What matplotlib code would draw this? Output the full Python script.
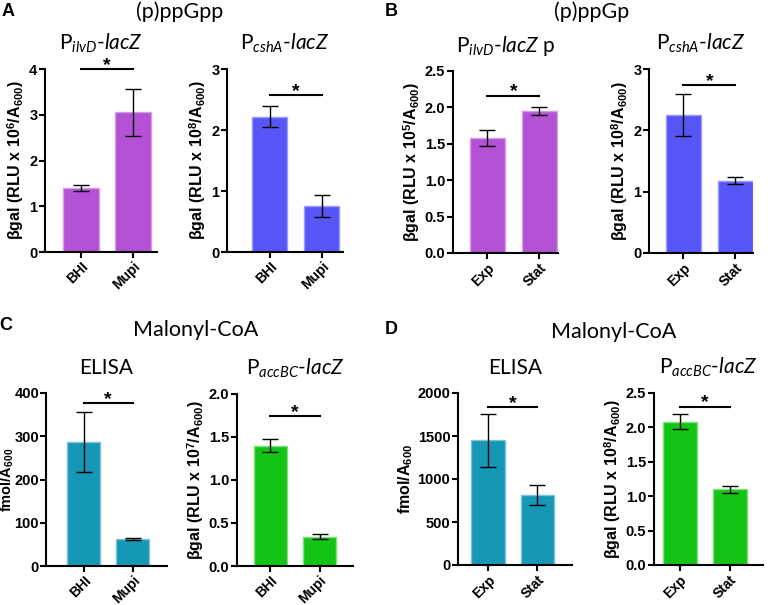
import numpy as np
import matplotlib
matplotlib.use('Agg')
import matplotlib.pyplot as plt

plt.rcParams['mathtext.fontset'] = 'custom'
plt.rcParams['mathtext.rm'] = 'Lato'
plt.rcParams['mathtext.it'] = 'Lato:italic'
plt.rcParams['mathtext.bf'] = 'Liberation Sans:bold'

# --- data ---
cond_mupi = ['BHI', 'Mupi']
cond_phase = ['Exp', 'Stat']

a1_vals = [1.40, 3.05]
a1_err = [0.07, 0.51]
a2_vals = [2.22, 0.75]
a2_err = [0.17, 0.18]
b1_vals = [1.58, 1.95]
b1_err = [0.11, 0.055]
b2_vals = [2.25, 1.18]
b2_err = [0.34, 0.055]
c1_vals = [287, 63]
c1_err = [70, 2]
c2_vals = [1.40, 0.34]
c2_err = [0.075, 0.03]
d1_vals = [1450, 815]
d1_err = [305, 115]
d2_vals = [2.08, 1.10]
d2_err = [0.11, 0.055]

purple = '#b452d6'
blue = '#5656f7'
teal = '#1697b5'
green = '#14c414'
edges = {purple: '#d59be8', blue: '#9a9afa', teal: '#7cc3d6', green: '#7be07b'}

W, H = 771, 605
fig = plt.figure(figsize=(W / 100, H / 100), dpi=100)


def panel(px, cats, vals, errs, color, ylim, yticks, ylabel, sig_y, xlim, title, dec=False):
    # px = (x0, x1, ytop, ybottom) in pixels
    x0, x1, yt, yb = px
    ax = fig.add_axes([x0 / W, 1 - yb / H, (x1 - x0) / W, (yb - yt) / H])
    x = np.arange(len(cats))
    ax.bar(x, vals, width=0.68, color=color, edgecolor=edges[color], linewidth=1, zorder=2)
    ax.errorbar(x, vals, yerr=errs, fmt='none', ecolor='black', elinewidth=1,
                capsize=6, capthick=1, zorder=3)
    ax.plot([0, 1], [sig_y, sig_y], color='black', lw=1.5, clip_on=False)
    ax.annotate('*', (0.5, sig_y), xytext=(0, -0.5), textcoords='offset points',
                ha='center', va='baseline', fontsize=14, fontweight='bold',
                family='Liberation Sans', annotation_clip=False)
    ax.set_xlim(xlim)
    ax.set_ylim(ylim)
    ax.set_yticks(yticks)
    if dec:
        ax.set_yticklabels(['%.1f' % t for t in yticks])
    ax.set_xticks(x)
    ax.set_xticklabels(cats, rotation=45, ha='right', rotation_mode='anchor')
    for lab in ax.get_yticklabels():
        lab.set_family('Liberation Sans')
        lab.set_fontweight('bold')
        lab.set_fontsize(10.5)
    for lab in ax.get_xticklabels():
        lab.set_family('Liberation Sans')
        lab.set_fontweight('bold')
        lab.set_fontsize(10)
    for s in ['top', 'right']:
        ax.spines[s].set_visible(False)
    for s in ['left', 'bottom']:
        ax.spines[s].set_linewidth(1.5)
    ax.tick_params(width=1.5, length=4, pad=1.5)
    ax.set_ylabel(ylabel, family='Liberation Sans', fontweight='bold', fontsize=11.5, labelpad=2)
    ax.set_title(title, family='Lato', fontsize=15, pad=14)
    return ax


rlu = 'βgal (RLU x 10$^{\\mathbf{%d}}$/A$_{\\mathbf{600}}$)'
fmol = 'fmol/A$_{\\mathbf{600}}$'

panel((45, 157, 69, 252), cond_mupi, a1_vals, a1_err, purple, (0, 4), [0, 1, 2, 3, 4],
      rlu % 6, 4.0, (-0.69, 1.46), r'P$_{\mathit{ilvD}}$-$\mathit{lacZ}$')
panel((227, 343, 69, 252), cond_mupi, a2_vals, a2_err, blue, (0, 3), [0, 1, 2, 3],
      rlu % 8, 2.57, (-0.82, 1.41), r'P$_{\mathit{cshA}}$-$\mathit{lacZ}$')
panel((453, 558, 71, 253), cond_phase, b1_vals, b1_err, purple, (0, 2.5),
      [0, 0.5, 1.0, 1.5, 2.0, 2.5], rlu % 5, 2.16, (-0.66, 1.36),
      r'P$_{\mathit{ilvD}}$-$\mathit{lacZ}$ p', dec=True)
panel((649, 753, 69, 253), cond_phase, b2_vals, b2_err, blue, (0, 3), [0, 1, 2, 3],
      rlu % 8, 2.74, (-0.66, 1.34), r'P$_{\mathit{cshA}}$-$\mathit{lacZ}$')
ax_c1 = panel((46, 167, 393, 566), cond_mupi, c1_vals, c1_err, teal, (0, 400),
              [0, 100, 200, 300, 400], fmol, 377, (-0.77, 1.70), 'ELISA')
ax_c1.yaxis.label.set_fontsize(10.5)
ax_c1.tick_params(axis='y', pad=1)
ax_c1.yaxis.set_label_coords(-0.245, 0.5)
panel((237, 353, 394, 566), cond_mupi, c2_vals, c2_err, green, (0, 2.0),
      [0, 0.5, 1.0, 1.5, 2.0], rlu % 7, 1.74, (-0.68, 1.68),
      r'P$_{\mathit{accBC}}$-$\mathit{lacZ}$', dec=True)
panel((458, 572, 393, 565), cond_phase, d1_vals, d1_err, teal, (0, 2000),
      [0, 500, 1000, 1500, 2000], fmol, 1837, (-0.61, 1.70), 'ELISA')
panel((654, 763, 393, 565), cond_phase, d2_vals, d2_err, green, (0, 2.5),
      [0, 0.5, 1.0, 1.5, 2.0, 2.5], rlu % 8, 2.30, (-0.51, 1.67),
      r'P$_{\mathit{accBC}}$-$\mathit{lacZ}$', dec=True)

# headers
for txt, x, y in [('(p)ppGpp', 180, 12), ('(p)ppGp', 592, 12),
                  ('Malonyl-CoA', 196, 330), ('Malonyl-CoA', 614, 332)]:
    fig.text(x / W, 1 - y / H, txt, ha='center', va='center', family='Lato', fontsize=15.5)
for txt, x, y in [('A', 8, 11), ('B', 391, 11), ('C', 6, 325), ('D', 391, 330)]:
    fig.text(x / W, 1 - y / H, txt, ha='center', va='center', family='Liberation Sans',
             fontweight='bold', fontsize=13)

fig.savefig('out.png', dpi=100)
